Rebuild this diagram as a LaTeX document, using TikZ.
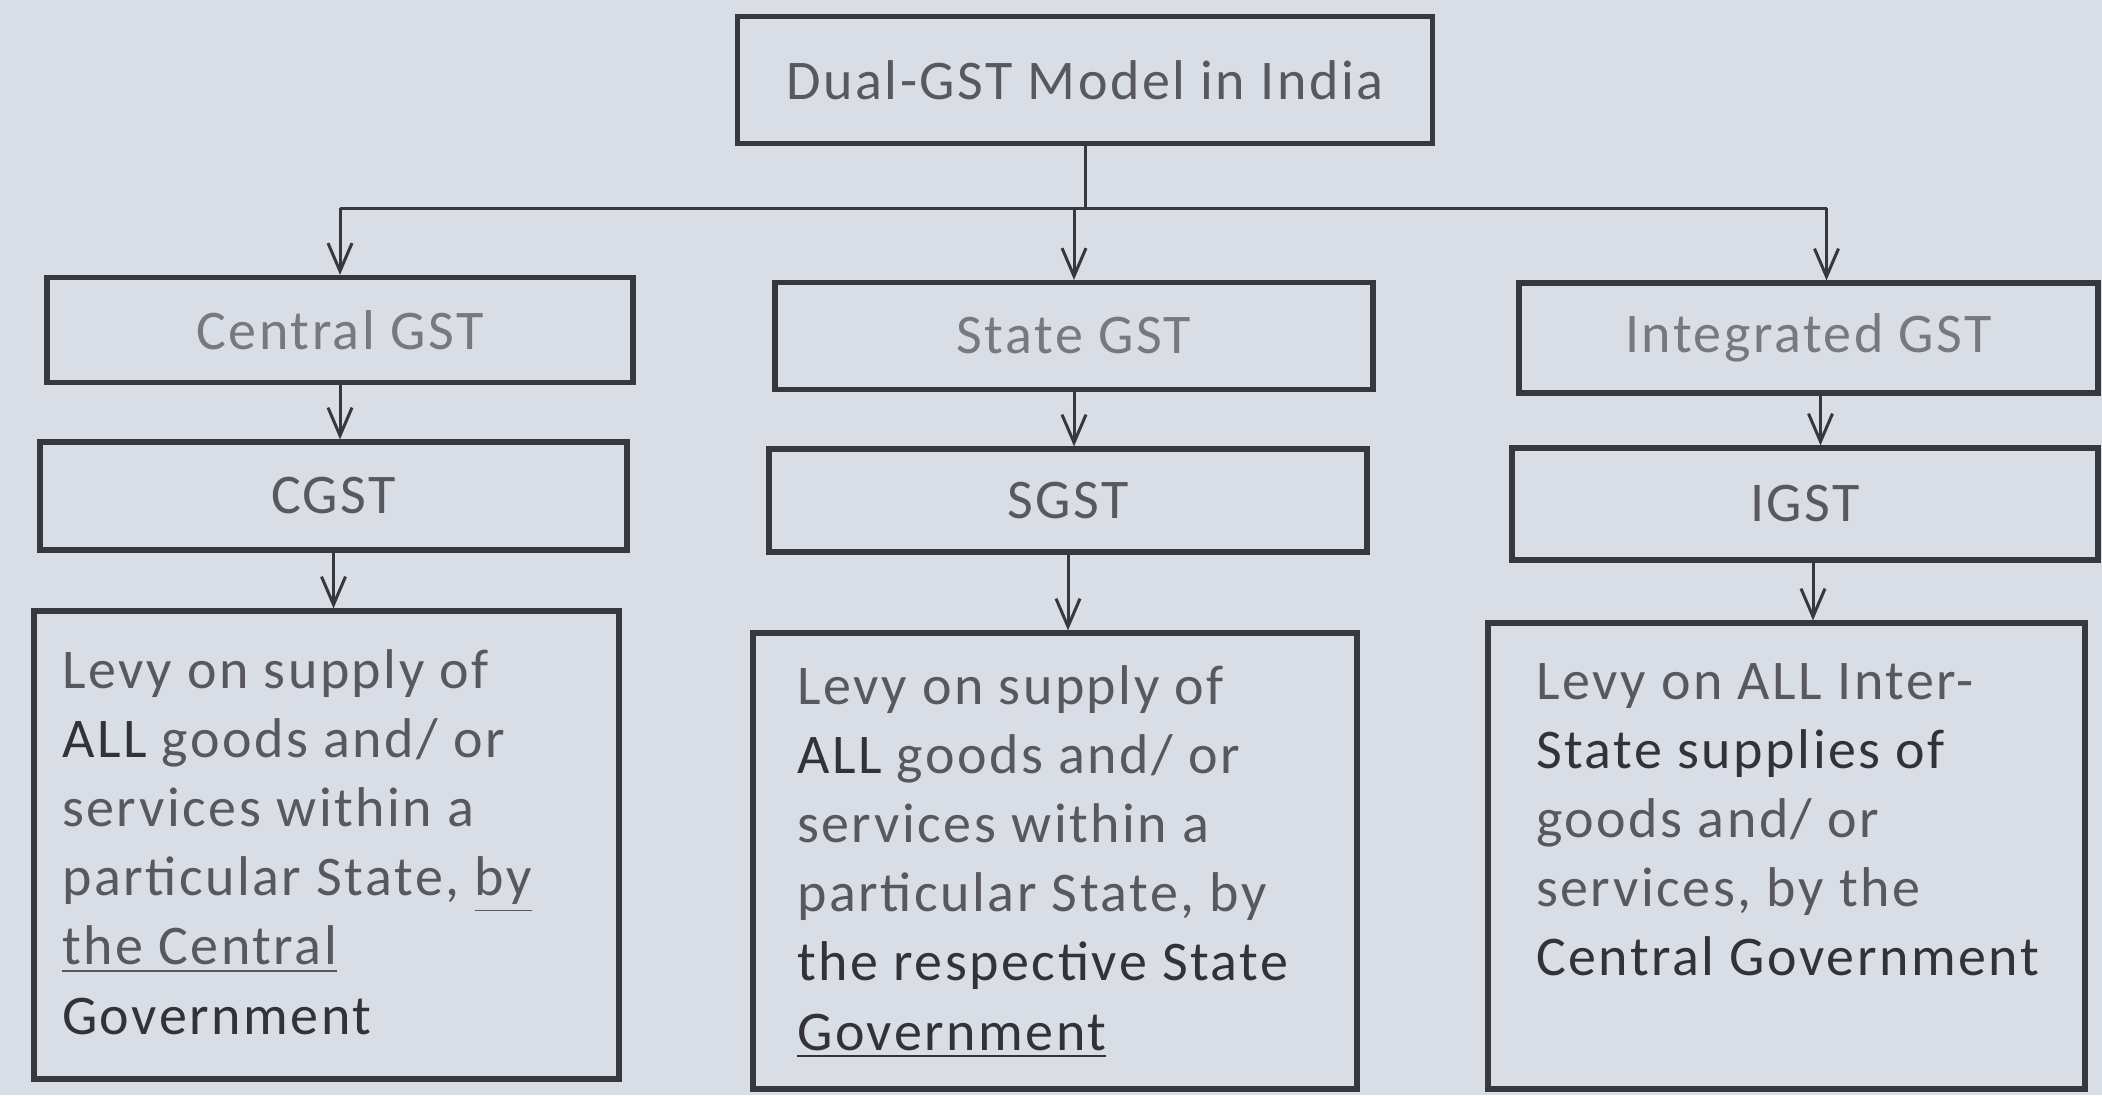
\documentclass[tikz,border=0pt]{standalone}
\usepackage{fontspec}
\setmainfont{Carlito}[LetterSpace=4.5]
\usetikzlibrary{arrows.meta,calc}
\definecolor{bg}{RGB}{217,222,230}
\definecolor{ln}{RGB}{55,55,62}
\definecolor{tx}{RGB}{88,88,94}
\definecolor{txl}{RGB}{120,120,126}
\definecolor{txd}{RGB}{50,50,56}
\begin{document}
\begin{tikzpicture}[x=0.25pt,y=-0.25pt,
  box/.style={draw=ln, line width=1.3pt, rectangle, inner sep=0pt, font=\fontsize{14}{17}\selectfont},
  conn/.style={draw=ln, line width=0.75pt},
  arr/.style={conn, -{Straight Barb[length=7pt,width=6pt]}},
  desc/.style={anchor=north west, inner sep=0pt, align=left, text=tx, font=\fontsize{14}{17.3}\selectfont}
]
\fill[bg] (0,0) rectangle (2102,1095);
\useasboundingbox (0,0) rectangle (2102,1095);

% top
\node[box, text=tx, minimum width=173.75pt, minimum height=31.75pt] (top) at (1085,80) {Dual-GST Model in India};

% row 1
\node[box, text=txl, minimum width=146.5pt, minimum height=26.25pt] (cg) at (340,330) {Central GST};
\node[box, text=txl, minimum width=149.5pt, minimum height=26.75pt] (sg) at (1074,336) {State GST};
\node[box, text=txl, minimum width=144.75pt, minimum height=27.5pt] (ig) at (1808.5,338) {Integrated GST};

% row 2
\node[box, text=tx, minimum width=146.75pt, minimum height=27pt] (cgst) at (333.5,496) {CGST};
\node[box, text=tx, minimum width=149.5pt, minimum height=25.75pt] (sgst) at (1068,500.5) {SGST};
\node[box, text=tx, minimum width=146.5pt, minimum height=28pt] (igst) at (1805,504) {IGST};

% row 3
\node[box, minimum width=146.25pt, minimum height=117pt] (d1) at (326.5,845) {};
\node[box, minimum width=151pt, minimum height=114pt] (d2) at (1055,861) {};
\node[box, minimum width=149.25pt, minimum height=116.5pt] (d3) at (1786.5,856) {};

\node[desc] (t1) at ($(d1.north west)+(30,40)$) {Levy on supply of\\
\textcolor{txd}{ALL} goods and/ or\\
services within a\\
particular State, \underline{by}\\
\underline{the Central}\\
\textcolor{txd}{Government}};

\node[desc] (t2) at ($(d2.north west)+(46,34)$) {Levy on supply of\\
\textcolor{txd}{ALL} goods and/ or\\
services within a\\
particular State, by\\
\textcolor{txd}{the respective State}\\
\textcolor{txd}{\underline{Government}}};

\node[desc] (t3) at ($(d3.north west)+(50,42)$) {Levy on ALL Inter-\\
\textcolor{txd}{State supplies of}\\
goods and/ or\\
services, by the\\
\textcolor{txd}{Central Government}};

% connectors
\coordinate (bar) at (1079,208);
\coordinate (igx) at ($(ig.north)+(18,0)$);
\coordinate (igs) at ($(ig.south)+(12,0)$);
\coordinate (igsts) at ($(igst.south)+(8,0)$);
\draw[conn] (top.south) -- (top.south |- bar);
\draw[conn] (cg.north |- bar) -- (igx |- bar);
\draw[arr] (cg.north |- bar) -- (cg.north);
\draw[arr] (sg.north |- bar) -- (sg.north);
\draw[arr] (igx |- bar) -- (igx);

\draw[arr] (cg.south) -- (cg.south |- cgst.north);
\draw[arr] (sg.south) -- (sg.south |- sgst.north);
\draw[arr] (igs) -- (igs |- igst.north);

\draw[arr] (cgst.south) -- (cgst.south |- d1.north);
\draw[arr] (sgst.south) -- (sgst.south |- d2.north);
\draw[arr] (igsts) -- (igsts |- d3.north);
\end{tikzpicture}
\end{document}
